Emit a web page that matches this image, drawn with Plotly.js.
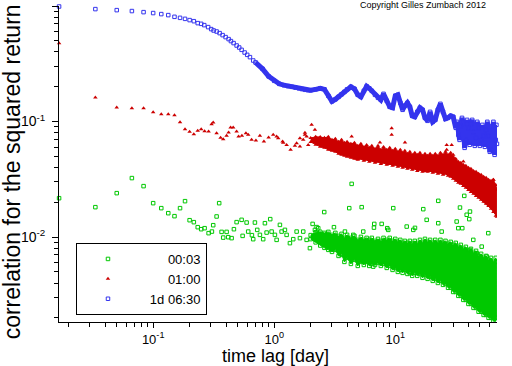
<!DOCTYPE html>
<html><head><meta charset="utf-8">
<script src="https://cdn.plot.ly/plotly-3.0.1.min.js"></script>
<style>html,body{margin:0;padding:0;background:#fff}#chart{width:512px;height:366px}</style>
</head><body><div id="chart"></div>
<script>
// legend labels (time horizons)
const seriesLabels = ['00:03', '01:00', '1d 06:30'];

// ---- 00:03 series (green), scattered points: lag [day], correlation
const greenLag = [0.0167,0.0333,0.05,0.0667,0.0833,0.1,0.1167,0.1333,0.15,0.1667,
 0.1833,0.2,0.2167,0.2333,0.2493,0.266,0.287,0.3057,0.3133,0.3342,
 0.351,0.3674,0.379,0.4043,0.4168,0.4447,0.4645,0.489,0.5378,0.5482,
 0.5915,0.6097,0.6542,0.6706,0.6927,0.7237,0.7617,0.811,0.8377,0.8653,
 0.9267,0.9517,1.0134,1.0467,1.1146,1.1513,1.2256,1.266,1.348,1.436,
 1.532,1.631,1.737,1.853,1.972,2.076,2.169,2.24,2.31,2.386,
 2.589,2.71,3.115,3.38,3.606,3.84,4.167,4.362,4.497,4.946,
 5.277,5.439,5.982,6.58,6.706,7.72,8.753,9.626,12.43,13.23,
 14.09,14.55,17.04,18.18,20.61,22.66,22.66,24.18,32.16,34.25,
 37.17,38.91,41.43,44.12,47.07,55.12,58.69,60.62,40.88,41.43,
 51.77,56.93,14.55,8.587,33.16,35.78,6.668];
const greenVal = [0.0217,0.01815,0.024,0.0324,0.0276,0.01966,0.0178,0.0161,0.01517,0.0178,
 0.02046,0.014,0.01346,0.01218,0.0117,0.01194,0.01081,0.01116,0.01267,0.01508,
 0.01966,0.01109,0.0099,0.01109,0.00998,0.00979,0.0117,0.01347,0.0141,0.01024,
 0.01336,0.01116,0.01039,0.00959,0.01336,0.01154,0.01045,0.00959,0.01319,0.01094,
 0.0143,0.01116,0.01045,0.00946,0.01275,0.01116,0.01154,0.01045,0.00886,0.00959,
 0.01116,0.00979,0.01116,0.00946,0.00802,0.013,0.01154,0.0122,0.01194,0.01045,
 0.01646,0.00979,0.01218,0.00856,0.00701,0.01116,0.01779,0.02887,0.01045,0.00827,
 0.01815,0.01116,0.00614,0.00555,0.013,0.013,0.01154,0.01779,0.01233,0.00487,
 0.01154,0.00886,0.01744,0.0141,0.00455,0.02059,0.01319,0.01116,0.01363,0.01801,
 0.02274,0.0156,0.01663,0.00946,0.00726,0.00635,0.01081,0.00595,0.0143,0.00775,
 0.00827,0.00678,0.01201,0.01194,0.01194,0.01194,0.01208];

// ---- 01:00 series (red), scattered points
const redLag = [0.0167,0.0333,0.05,0.0667,0.0833,0.1,0.1167,0.1333,0.15,0.1667,
 0.1833,0.2,0.2167,0.2333,0.2493,0.266,0.287,0.3039,0.3133,0.3342,
 0.3605,0.379,0.4043,0.42,0.4363,0.4583,0.489,0.508,0.5409,0.5837,
 0.6097,0.6505,0.706,0.7617,0.8219,0.899,0.981,1.047,1.079,1.173,
 1.187,1.266,1.366,1.483,1.532,1.631,1.631,1.737,1.794,1.853,
 1.909,2.037,2.169,4.362,7.474,9.339,9.339,12.03,26.6,29.25,
 30.1,36.5,64.55,1.794,26.6,65.8];
const redVal = [0.477,0.1613,0.1322,0.1306,0.1306,0.1206,0.1159,0.1159,0.1136,0.0988,
 0.0859,0.0814,0.0778,0.0831,0.0859,0.0825,0.0819,0.0949,0.098,0.0793,
 0.0723,0.0704,0.0752,0.0803,0.0887,0.0887,0.0819,0.0741,0.0752,0.0793,
 0.0767,0.0694,0.0684,0.0752,0.0671,0.0727,0.0767,0.0741,0.0718,0.0671,
 0.0654,0.0628,0.0569,0.0616,0.065,0.0718,0.0607,0.0694,0.0767,0.0741,
 0.0628,0.0936,0.0847,0.0741,0.0658,0.0876,0.0767,0.0658,0.0569,0.0628,
 0.0515,0.0451,0.0313,0.0798,0.0628,0.0265];

// ---- 1d 06:30 series (blue), short lags
const blueLag = [0.0167,0.0333,0.05,0.0667,0.0833,0.1,0.1167,0.1333,0.15,0.1667,
 0.1833,0.2,0.2167,0.2333,0.2493,0.2642,0.2846,0.3016,0.3157,0.3342,
 0.3539,0.3747,0.3966,0.42,0.4388,0.4618,0.4891,0.5137,0.5378,0.5694,
 0.5983,0.6302,0.6708];
const blueVal = [0.99,0.94,0.921,0.904,0.885,0.869,0.851,0.834,0.806,0.79,
 0.774,0.755,0.739,0.711,0.701,0.683,0.6565,0.631,0.614,0.6016,
 0.5826,0.5597,0.5381,0.517,0.4969,0.4775,0.455,0.4372,0.4175,0.3956,
 0.3779,0.361,0.3374];
// blue, dense long lags
const blueLagDense = [0.7,0.8,0.9,1.0,1.1,1.2,1.3,1.4,1.5,1.6,
 1.7,1.8,1.9,2.0,2.2,2.4,2.6,2.8,3.0,3.2,
 3.4,3.6,3.8,4.0,4.3,4.6,4.9,5.2,5.5,5.8,
 6.1,6.4,6.8,7.2,7.6,8.0,8.5,9.0,9.5,10,
 10.5,11,11.5,12,12.6,13.2,13.8,14.5,15.2,16,
 16.8,17.6,18.5,19.4,20.4,21.4,22.5,23.6,24.8,26,
 27.3,28.7,30.1,31.6,32.4,33.2,34.0,34.8,35.6,36.5,
 37.4,38.3,39.2,40.2,41.2,42.2,43.2,44.3,45.4,46.5,
 47.6,48.8,50,51.2,52.4,53.7,55,56.3,57.6,59,
 60.4,61.8,63.2,64.7,66.2,67.7,68.5,69.2];
const blueValDense = [0.325,0.286,0.246,0.225,0.212,0.2066,0.2025,0.1997,0.1965,0.1938,
 0.1908,0.1882,0.1866,0.1863,0.19,0.1942,0.19,0.167,0.1496,0.1557,
 0.1636,0.172,0.1807,0.19,0.1997,0.192,0.1703,0.1636,0.1844,0.2017,
 0.1938,0.1844,0.1703,0.1605,0.1541,0.1737,0.151,0.134,0.1314,0.167,
 0.1703,0.1452,0.1263,0.1368,0.1452,0.134,0.112,0.1098,0.1213,0.1314,
 0.1263,0.1076,0.1014,0.1213,0.0994,0.1034,0.1263,0.1423,0.1213,0.1055,
 0.1076,0.112,0.1098,0.0882,0.0994,0.0767,0.0694,0.0918,0.1076,0.0955,
 0.0592,0.0694,0.1034,0.0882,0.0629,0.0955,0.1034,0.0814,0.0616,0.0723,
 0.0994,0.0882,0.0616,0.0694,0.0936,0.0752,0.0604,0.0847,0.0994,0.0752,
 0.0547,0.0569,0.0918,0.0994,0.0515,0.0694,0.0936,0.0641];

// ---- dense band region: upper and lower envelope of the point clouds
const bandLag = [2.0,2.2,2.4,2.6,2.8,3.0,3.2,3.4,3.6,3.8,
 4.0,4.3,4.6,4.9,5.2,5.5,5.8,6.1,6.4,6.8,
 7.2,7.6,8.0,8.5,9.0,9.5,10,10.5,11,11.5,
 12,12.6,13.2,13.8,14.5,15.2,16,16.8,17.6,18.5,
 19.4,20.4,21.4,22.5,23.6,24.8,26,27.3,28.7,30.1,
 31.6,33.2,34.8,36.5,38.3,40.2,42.2,44.3,46.5,48.8,
 51.2,53.7,56.3,59,61.8,64.7,67.7,69.2];
const greenTop = [0.0104,0.0110,0.01111,0.01087,0.01109,0.01045,0.01087,0.01024,0.01066,0.00984,
 0.01045,0.00984,0.01024,0.00946,0.01004,0.00946,0.00984,0.00946,0.00984,0.00927,
 0.00965,0.00927,0.00984,0.00946,0.00984,0.00927,0.00965,0.00909,0.00946,0.00891,
 0.00927,0.00891,0.00927,0.00874,0.00927,0.00874,0.00946,0.00891,0.00965,0.00909,
 0.00946,0.00891,0.00946,0.00891,0.00946,0.00891,0.00927,0.00874,0.00909,0.00856,
 0.00891,0.00823,0.00856,0.00791,0.00823,0.0076,0.00791,0.0073,0.0076,0.00687,
 0.00716,0.00661,0.00687,0.00635,0.00661,0.0061,0.00661,0.0061];
const greenBot = [0.0096,0.0090,0.00845,0.00807,0.00775,0.00745,0.00775,0.00687,0.00716,0.0061,
 0.00661,0.00586,0.00635,0.00563,0.0061,0.00574,0.0061,0.00563,0.00586,0.00574,
 0.00598,0.00563,0.00586,0.00541,0.00563,0.0052,0.00541,0.005,0.0052,0.0049,
 0.0052,0.0048,0.005,0.00462,0.0049,0.00462,0.0048,0.00444,0.00471,0.00435,
 0.00453,0.00418,0.00435,0.00401,0.00418,0.00386,0.00393,0.00364,0.00364,0.00335,
 0.00335,0.0031,0.0031,0.00286,0.00286,0.00264,0.00264,0.00244,0.00244,0.00226,
 0.00226,0.00212,0.00212,0.002,0.002,0.00188,0.00188,0.002];
const redTop = [0.0720,0.0737,0.0735,0.0723,0.0737,0.0694,0.0708,0.0667,0.0694,0.0654,
 0.0667,0.0641,0.0654,0.0616,0.0641,0.0603,0.0628,0.0592,0.0616,0.058,
 0.0616,0.0569,0.0603,0.0569,0.0592,0.0558,0.058,0.0547,0.0569,0.0536,
 0.0558,0.0525,0.0547,0.0515,0.0536,0.0515,0.0536,0.0505,0.0525,0.0505,
 0.0525,0.0505,0.0525,0.0505,0.0536,0.0515,0.0547,0.0515,0.0536,0.0495,
 0.0476,0.0448,0.0439,0.0422,0.0414,0.0398,0.039,0.0374,0.0367,0.0353,
 0.0346,0.0333,0.0326,0.0313,0.0307,0.0313,0.0283,0.0256];
const redBot = [0.0665,0.0630,0.0605,0.0592,0.0569,0.0558,0.0547,0.0525,0.0515,0.0505,
 0.0495,0.0485,0.0476,0.0466,0.0476,0.0457,0.0466,0.0448,0.0457,0.0439,
 0.0448,0.043,0.0439,0.0422,0.043,0.0414,0.0422,0.0406,0.0414,0.0398,
 0.0406,0.039,0.0398,0.0382,0.039,0.0374,0.0382,0.0367,0.0374,0.0367,
 0.0374,0.036,0.0367,0.0353,0.036,0.0346,0.0353,0.0339,0.0333,0.032,
 0.0307,0.0295,0.0289,0.0277,0.0267,0.0256,0.0246,0.0237,0.0227,0.0219,
 0.021,0.0202,0.0194,0.0186,0.0176,0.0165,0.0153,0.015];

// axis tick labels
const xTickVals = [0.1, 1, 10];
const xTickText = ['10<sup>-1</sup>', '10<sup>0</sup>', '10<sup>1</sup>'];
const yTickVals = [0.01, 0.1, 1];
const yTickText = ['10<sup>-2</sup>', '10<sup>-1</sup>', ' '];

const GREEN = '#00c800', RED = '#cc0000', BLUE = '#3434ee';
const NB = '\u00a0';
function pad(n){ return NB.repeat(n); }
function minorVals(lo, hi){ const v=[]; for(let e=lo;e<=hi;e++) for(let d=2;d<=9;d++) v.push(d*Math.pow(10,e)); return v; }

const sq = c => ({symbol:'square-open', size:3.5, color:c, line:{width:1, color:c}});
const tri = c => ({symbol:'triangle-up', size:4, color:c, line:{width:0}});

const traces = [
  {name: pad(8)+seriesLabels[0], x: greenLag, y: greenVal, type:'scatter', mode:'markers', marker: sq(GREEN), cliponaxis:false},
  {name: pad(8)+seriesLabels[1], x: redLag, y: redVal, type:'scatter', mode:'markers', marker: tri(RED), cliponaxis:false},
  {name: pad(3)+seriesLabels[2], x: blueLag, y: blueVal, type:'scatter', mode:'markers', marker: sq(BLUE), cliponaxis:false},
  {x: bandLag, y: greenBot, type:'scatter', mode:'lines+markers', line:{color:GREEN, width:1}, marker: sq(GREEN), showlegend:false},
  {x: bandLag, y: greenTop, type:'scatter', mode:'lines+markers', fill:'tonexty', fillcolor:GREEN, line:{color:GREEN, width:1}, marker: sq(GREEN), showlegend:false},
  {x: bandLag, y: redBot, type:'scatter', mode:'lines+markers', line:{color:RED, width:1}, marker: tri(RED), showlegend:false},
  {x: bandLag, y: redTop, type:'scatter', mode:'lines+markers', fill:'tonexty', fillcolor:RED, line:{color:RED, width:1}, marker: tri(RED), showlegend:false},
  {x: blueLagDense, y: blueValDense, type:'scatter', mode:'lines+markers', line:{color:BLUE, width:5}, marker: sq(BLUE), showlegend:false, cliponaxis:false}
];

const axisCommon = {
  type:'log', showline:true, linecolor:'#000', linewidth:1, showgrid:false, zeroline:false,
  ticks:'outside', ticklen:6, tickcolor:'#000', tickwidth:1, tickmode:'array',
  tickfont:{size:14, color:'#000'}
};

const layout = {
  width:512, height:366,
  margin:{l:59, r:15, t:6, b:44},
  paper_bgcolor:'#fff', plot_bgcolor:'#fff',
  font:{family:'"Liberation Sans", Arial, sans-serif', color:'#000', size:14},
  showlegend:true,
  legend:{x:0.0388, y:0.25, xanchor:'left', yanchor:'top', bordercolor:'#000', borderwidth:1,
          bgcolor:'#fff', font:{size:13, color:'#000'}, itemwidth:52, traceorder:'normal'},
  xaxis: Object.assign({}, axisCommon, {
    range:[-1.778, 1.8405], tickvals:xTickVals, ticktext:xTickText, ticklen:5,
    tickfont:{size:13, color:'#000'},
    minor:{tickmode:'array', tickvals:minorVals(-2,1), ticks:'outside', ticklen:4, tickcolor:'#000', showgrid:false}
  }),
  yaxis: Object.assign({}, axisCommon, {
    range:[-2.735, 0], tickvals:yTickVals, ticktext:yTickText, ticklabelstandoff:4,
    minor:{tickmode:'array', tickvals:minorVals(-3,-1), ticks:'outside', ticklen:4, tickcolor:'#000', showgrid:false}
  }),
  annotations:[
    {text:'Copyright Gilles Zumbach 2012', xref:'paper', yref:'paper', x:0.6826, y:1.003,
     xanchor:'left', yanchor:'middle', showarrow:false, font:{size:9, color:'#000'}},
    {text:'correlation for the squared return', xref:'paper', yref:'paper', x:-0.107, y:0.474,
     xanchor:'center', yanchor:'middle', textangle:-90, showarrow:false, font:{size:23, color:'#000'}},
    {text:'time lag [day]', xref:'paper', yref:'paper', x:0.494, y:-0.1076,
     xanchor:'center', yanchor:'middle', showarrow:false, borderpad:0, font:{size:18, color:'#000'}}
  ]
};

Plotly.newPlot('chart', traces, layout, {staticPlot:true, displayModeBar:false});
</script>
</body></html>
